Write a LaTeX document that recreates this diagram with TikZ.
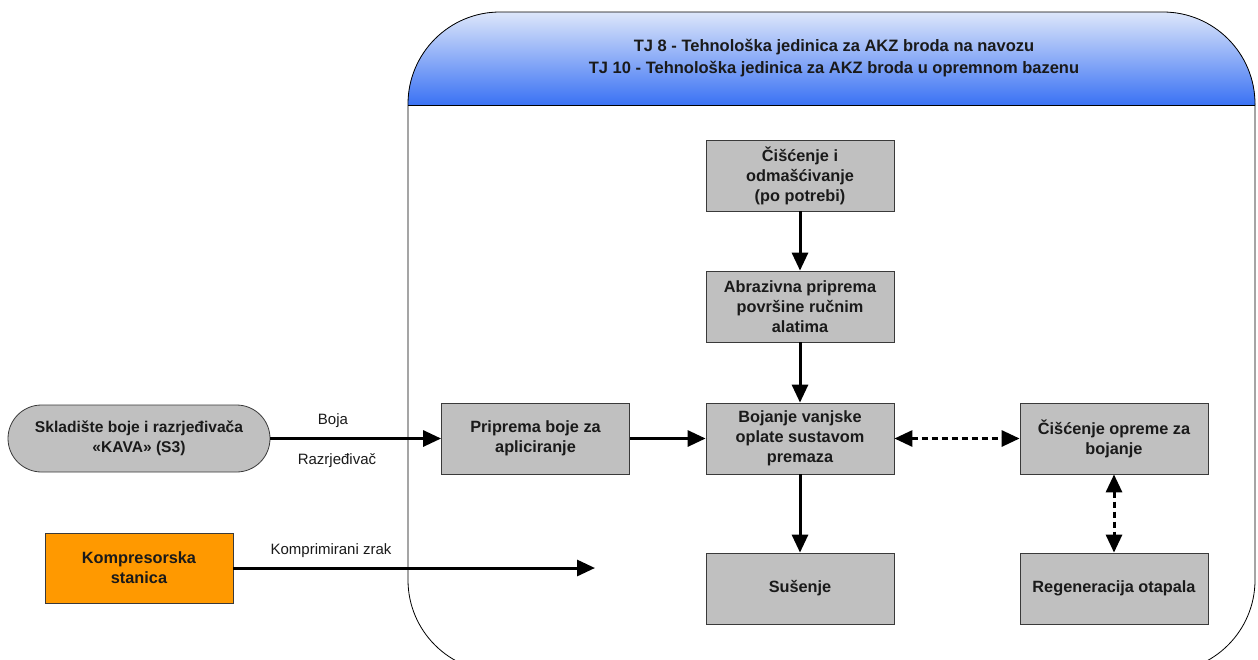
\documentclass[tikz,border=0pt]{standalone}
\usepackage{fontspec}
\setmainfont{Liberation Sans}
\usetikzlibrary{arrows.meta}
\definecolor{boxgray}{HTML}{C0C0C0}
\definecolor{edgegray}{HTML}{3A3A3A}
\definecolor{orangebox}{HTML}{FF9900}
\definecolor{hdrtop}{HTML}{F2F5FB}
\definecolor{hdrbot}{HTML}{3A72F4}
\definecolor{txt}{HTML}{1A1A1A}
\begin{document}
\begin{tikzpicture}[x=1pt,y=-1pt,
  proc/.style={draw=edgegray, line width=0.8pt, fill=boxgray, minimum width=188pt,
    minimum height=71pt, inner sep=0pt, align=center, text=txt,
    font=\bfseries\fontsize{16.3}{20}\selectfont},
  flow/.style={line width=3pt, -{Triangle[length=18pt,width=16pt]}},
  dflow/.style={line width=3pt, dash pattern=on 6pt off 4pt,
    {Triangle[length=18pt,width=16pt]}-{Triangle[length=18pt,width=16pt]}},
  lbl/.style={font=\fontsize{15}{18}\selectfont, text=txt, inner sep=0pt},
  unit/.style={line width=0.8pt, draw=black}]
\useasboundingbox (0,0) rectangle (1258,659);
\fill[white] (0,0) rectangle (1258,659);

% technological unit container with shaded header band
\begin{scope}
  \clip[rounded corners=92pt] (408,672) -- (408,12) -- (1255,12) -- (1255,672) -- cycle;
  \fill[top color=hdrtop, bottom color=hdrbot] (400,0) rectangle (1260,105);
\end{scope}
\draw[unit, rounded corners=92pt] (408,672) -- (408,12) -- (1255,12) -- (1255,672) -- cycle;
\draw[unit] (408,105) -- (1255,105);
\node[font=\bfseries\fontsize{16.5}{22}\selectfont, align=center, text=txt] (hdr) at (834,58)
  {TJ 8 - Tehnološka jedinica za AKZ broda na navozu\\TJ 10 - Tehnološka jedinica za AKZ broda u opremnom bazenu};

% process steps
\node[proc] (clean) at (800,175.5) {Čišćenje i\\odmašćivanje\\(po potrebi)};
\node[proc] (abr) at (800,306.5) {Abrazivna priprema\\površine ručnim\\alatima};
\node[proc] (paint) at (800,438.5) {Bojanje vanjske\\oplate sustavom\\premaza};
\node[proc] (dry) at (800,588.5) {Sušenje};
\node[proc] (prep) at (535.5,438.5) {Priprema boje za\\apliciranje};
\node[proc] (eqclean) at (1114,438.5) {Čišćenje opreme za\\bojanje};
\node[proc] (regen) at (1114,588.5) {Regeneracija otapala};

% external sources
\node[proc, minimum width=262pt, minimum height=67pt, rounded corners=33.5pt,
  font=\bfseries\fontsize{15.6}{20}\selectfont] (store) at (139,438.5)
  {Skladište boje i razrjeđivača\\«KAVA» (S3)};
\node[proc, fill=orangebox, minimum height=70pt] (comp) at (139,568) {Kompresorska\\stanica};
\coordinate (airend) at (595,568);

% flows
\draw[flow] (store) -- (prep);
\node[lbl] (lboja) at (333,421) {Boja};
\node[lbl] (lrazr) at (337,461) {Razrjeđivač};
\draw[flow] (prep) -- (paint);
\draw[flow] (clean) -- (abr);
\draw[flow] (abr) -- (paint);
\draw[flow] (paint) -- (dry);
\draw[dflow] (paint) -- (eqclean);
\draw[dflow] (eqclean) -- (regen);
\draw[flow] (comp) -- (airend);
\node[lbl] (lair) at (331,551) {Komprimirani zrak};
\end{tikzpicture}
\end{document}
